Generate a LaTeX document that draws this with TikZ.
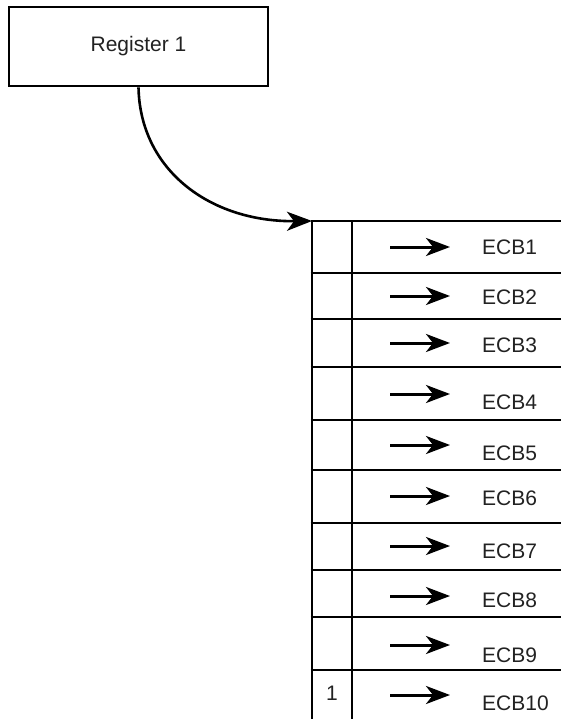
\documentclass[tikz,border=0pt]{standalone}
\usepackage{fontspec}
\setmainfont{Liberation Sans}
\usetikzlibrary{arrows.meta}
\definecolor{ink}{HTML}{222222}
\tikzset{
  grid/.style={line width=2.6pt, draw=black},
  regbox/.style={draw=black, line width=2.6pt, minimum width=259pt, minimum height=79pt, inner sep=0pt, font=\fontsize{21}{25}\selectfont, text=ink},
  lbl/.style={inner sep=0pt, font=\fontsize{21}{25}\selectfont, text=ink},
  ptr/.style={line width=3pt, -{Stealth[length=24pt,width=18pt,inset=7pt]}},
  conn/.style={line width=2.6pt, -{Stealth[length=25pt,width=19pt,inset=7pt]}}
}
\begin{document}
\begin{tikzpicture}[x=1pt,y=-1pt]
\useasboundingbox (0,0) rectangle (561,719);
\node[regbox] (reg) at (138.5,46.5) {Register 1};
\coordinate (tl) at (312,221);
\coordinate (bl) at (312,719);
\coordinate (tm) at (352,221);
\coordinate (bm) at (352,719);
\draw[grid] (tl) -- (bl);
\draw[grid] (tm) -- (bm);
\foreach \y in {221,273,319,367,420,470,523,570,617,670} {
  \draw[grid] (310.7,\y) -- (561,\y);
}
\foreach \i/\ya/\yt in {1/247/247, 2/296/297, 3/343/345, 4/394/402, 5/445/453, 6/496/498, 7/546/551, 8/596/600, 9/645/655, 10/695/703} {
  \coordinate (s\i) at (390,\ya);
  \coordinate (t\i) at (450,\ya);
  \draw[ptr] (s\i) -- (t\i);
  \node[lbl, anchor=west] (e\i) at (482,\yt) {ECB\i};
}
\node[lbl] (one) at (332,693) {1};
\draw[conn] (reg.south) .. controls (140,170) and (210,222) .. (tl);
\end{tikzpicture}
\end{document}
